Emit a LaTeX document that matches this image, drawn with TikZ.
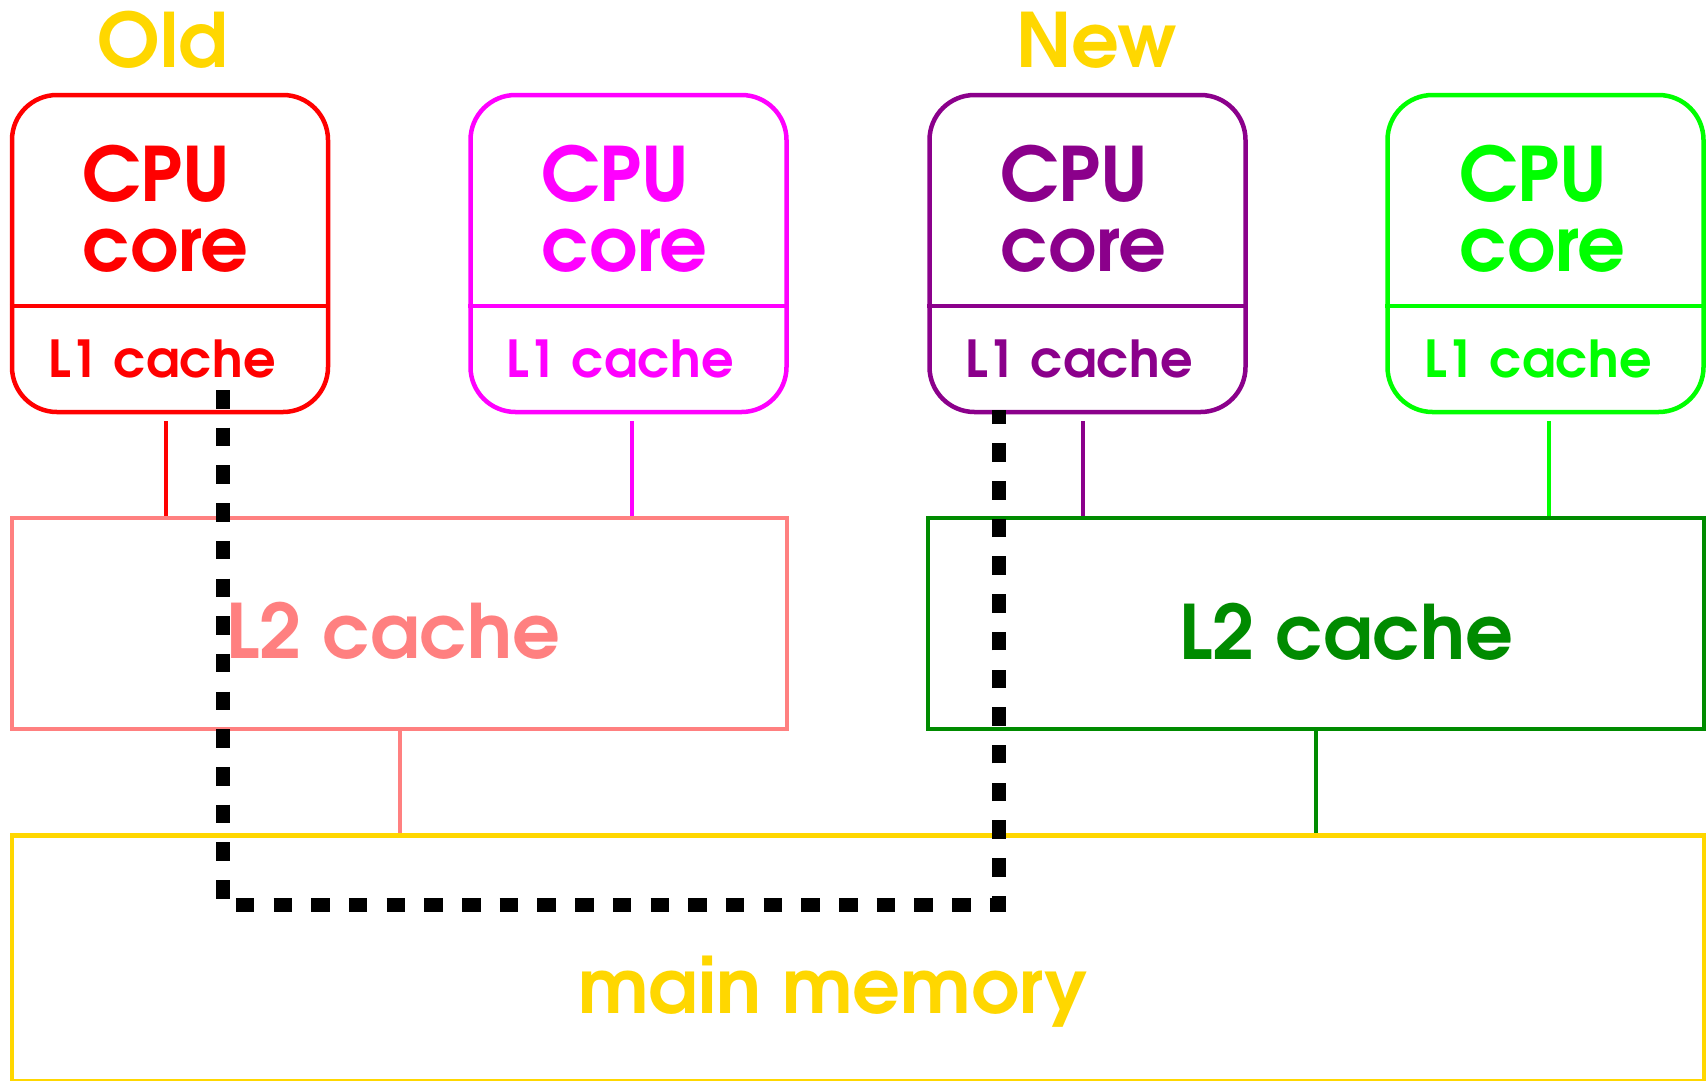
\documentclass[tikz,border=0pt]{standalone}
\usepackage{fontspec}
\setmainfont{TeX Gyre Adventor}
\definecolor{cRed}{RGB}{255,0,0}
\definecolor{cMag}{RGB}{255,0,255}
\definecolor{cPur}{RGB}{139,0,139}
\definecolor{cGrn}{RGB}{0,255,0}
\definecolor{cPink}{RGB}{255,128,128}
\definecolor{cDkGrn}{RGB}{0,139,0}
\definecolor{cGold}{RGB}{255,215,0}
\tikzset{
  cpubox/.style={draw=#1, line width=4.5pt, rounded corners=45pt, minimum width=316pt, minimum height=317pt, inner sep=0pt},
  plainbox/.style={draw=#1, line width=4.5pt, minimum height=211pt, inner sep=0pt},
  big/.style={text=#1, anchor=base west, inner sep=0pt, font=\fontsize{75}{78}\selectfont\bfseries},
  small/.style={text=#1, anchor=base west, inner sep=0pt, font=\fontsize{51}{54}\selectfont\bfseries},
  link/.style={draw=#1, line width=4pt},
  migration/.style={draw=black, line width=14pt, dash pattern=on 18.5pt off 19.2pt},
}
\begin{document}
\begin{tikzpicture}[x=1pt,y=-1pt]
\useasboundingbox (0,0) rectangle (1707,1080);
% CPU boxes
\node[cpubox=cRed] (c1) at (170,253.5) {};
\node[cpubox=cMag] (c2) at (628.5,253.5) {};
\node[cpubox=cPur] (c3) at (1087.5,253.5) {};
\node[cpubox=cGrn] (c4) at (1545.5,253.5) {};
\foreach \n/\c in {c1/cRed,c2/cMag,c3/cPur,c4/cGrn}{
  \draw[draw=\c, line width=4.5pt] ([yshift=-52.5pt]\n.west) -- ([yshift=-52.5pt]\n.east);
}
% L2 and memory
\node[plainbox=cPink, minimum width=775pt] (l2a) at (399.5,623.5) {};
\node[plainbox=cDkGrn, minimum width=776pt] (l2b) at (1316,623.5) {};
\node[draw=cGold, line width=4.5pt, minimum width=1692pt, minimum height=245.5pt, inner sep=0pt] (mem) at (858,958.25) {};
% labels
\node[big=cGold] (old) at (97,67) {Old};
\node[big=cGold] (new) at (1016,67) {New};
\node[big=cRed] (t1a) at (82,201) {CPU};
\node[big=cRed] (t1b) at (82,271) {core};
\node[big=cMag] (t2a) at (541,201) {CPU};
\node[big=cMag] (t2b) at (541,271) {core};
\node[big=cPur] (t3a) at (1000,201) {CPU};
\node[big=cPur] (t3b) at (1000,271) {core};
\node[big=cGrn] (t4a) at (1459,201) {CPU};
\node[big=cGrn] (t4b) at (1459,271) {core};
\node[small=cRed] (s1) at (48,377) {L1 cache};
\node[small=cMag] (s2) at (506,377) {L1 cache};
\node[small=cPur] (s3) at (965,377) {L1 cache};
\node[small=cGrn] (s4) at (1424,377) {L1 cache};
\node[big=cPink] (l2at) at (226,658) {L2 cache};
\node[big=cDkGrn] (l2bt) at (1179,659) {L2 cache};
\node[big=cGold] (memt) at (578,1013) {main memory};
% L1 -> L2 links
\coordinate (k1) at ([xshift=-4pt,yshift=-7pt]c1.south);
\coordinate (k2) at ([xshift=3.5pt,yshift=-7pt]c2.south);
\coordinate (k3) at ([xshift=-4.5pt,yshift=-7pt]c3.south);
\coordinate (k4) at ([xshift=3.5pt,yshift=-7pt]c4.south);
\draw[link=cRed] (k1) -- (k1 |- l2a.north);
\draw[link=cMag] (k2) -- (k2 |- l2a.north);
\draw[link=cPur] (k3) -- (k3 |- l2b.north);
\draw[link=cGrn] (k4) -- (k4 |- l2b.north);
% L2 -> memory
\draw[link=cPink] (l2a.south) -- (l2a.south |- mem.north);
\draw[link=cDkGrn] (l2b.south) -- (l2b.south |- mem.north);
% migration path
\coordinate (dA) at (223,390);
\coordinate (dB) at (999,410);
\coordinate (dY) at (0,905);
\draw[migration] (dA) -- (dA |- dY) -- (dB |- dY) -- (dB);
\end{tikzpicture}
\end{document}
